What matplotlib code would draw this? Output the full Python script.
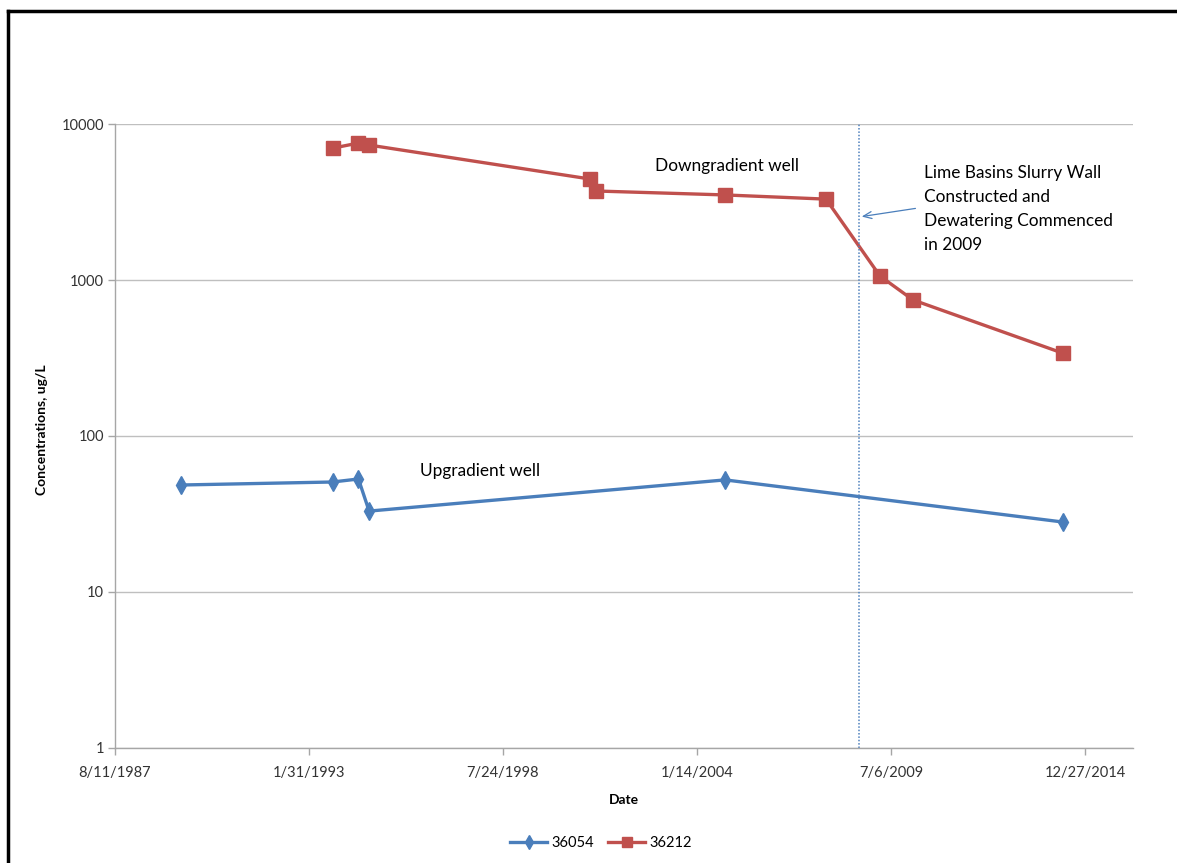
import numpy as np
import pandas as pd
import matplotlib
matplotlib.use("Agg")
import matplotlib.pyplot as plt
from matplotlib.lines import Line2D
from matplotlib.ticker import FixedLocator, NullLocator

plt.rcParams['font.family'] = ['Lato', 'DejaVu Sans']

# Well 36054 (upgradient)
dates_36054 = pd.to_datetime(['1989-06-21', '1993-10-01', '1994-06-25', '1994-10-13',
                              '2004-10-30', '2014-05-10'])
conc_36054 = [48.5, 50.7, 53, 33, 52.3, 28.1]

# Well 36212 (downgradient)
dates_36212 = pd.to_datetime(['1993-10-01', '1994-06-25', '1994-10-13', '2001-01-07',
                              '2001-03-10', '2004-10-30', '2007-09-05', '2009-03-15',
                              '2010-02-18', '2014-05-10'])
conc_36212 = [7000, 7550, 7330, 4440, 3720, 3510, 3300, 1060, 745, 340]

# slurry wall / dewatering marker
wall_date = pd.Timestamp('2008-08-10')

x_tick_labels = ['8/11/1987', '1/31/1993', '7/24/1998', '1/14/2004', '7/6/2009', '12/27/2014']
y_ticks = [1, 10, 100, 1000, 10000]

blue = '#4a7ebb'
red = '#c0504d'
grey = '#a6a6a6'

fig = plt.figure(figsize=(11.77, 8.63), dpi=100)
ax = fig.add_axes([0.0977, 0.1333, 0.8649, 0.7230])

ax.plot(dates_36054, conc_36054, color=blue, lw=2.4, marker='d', ms=9,
        mfc=blue, mec=blue, label='36054')
ax.plot(dates_36212, conc_36212, color=red, lw=2.4, marker='s', ms=9.5,
        mfc=red, mec=red, label='36212')

ax.axvline(wall_date, color='#4f81bd', lw=1.1, ls=(0, (1, 1.2)))

ax.set_yscale('log')
ax.set_ylim(1, 10000)
ax.yaxis.set_major_locator(FixedLocator(y_ticks))
ax.yaxis.set_minor_locator(NullLocator())
ax.set_yticklabels([str(v) for v in y_ticks])

x_ticks = pd.to_datetime(x_tick_labels, format='%m/%d/%Y')
ax.set_xlim(x_ticks[0], pd.Timestamp('2016-05-05'))
ax.set_xticks(x_ticks)
ax.set_xticklabels(x_tick_labels)
ax.xaxis.set_minor_locator(NullLocator())

ax.grid(axis='y', color='#bfbfbf', lw=1)
ax.set_axisbelow(True)
for s in ['top', 'right']:
    ax.spines[s].set_visible(False)
for s in ['left', 'bottom']:
    ax.spines[s].set_color(grey)
    ax.spines[s].set_linewidth(1)
ax.tick_params(axis='both', colors=grey, length=5, width=1, labelcolor='#333333',
               labelsize=10.5)
ax.tick_params(axis='x', pad=8)
ax.tick_params(axis='y', pad=3)

ax.set_xlabel('Date', fontsize=10, fontweight='bold', labelpad=10)
fig.text(42 / 1177, 1 - 430 / 863, 'Concentrations, ug/L', rotation=90,
         ha='center', va='center', fontsize=10, fontweight='bold')

ax.text(0.530, 0.933, 'Downgradient well', transform=ax.transAxes,
        fontsize=12.4, va='center', ha='left')
ax.text(0.2996, 0.444, 'Upgradient well', transform=ax.transAxes,
        fontsize=12.4, va='center', ha='left')
ax.text(0.7947, 0.864, 'Lime Basins Slurry Wall\nConstructed and\nDewatering Commenced\nin 2009',
        transform=ax.transAxes, fontsize=12.4, va='center', ha='left', linespacing=1.6)
ax.annotate('', xy=(wall_date, 2535), xycoords='data',
            xytext=(0.789, 0.8654), textcoords='axes fraction',
            arrowprops=dict(arrowstyle='->,head_length=0.6,head_width=0.25',
                            color=blue, lw=0.9))

fig.legend(loc='center', bbox_to_anchor=(601 / 1177, 1 - 843 / 863), ncol=2,
           frameon=False, fontsize=10.5, handlelength=2.5, columnspacing=1.0,
           handletextpad=0.3, markerscale=0.8)

# outer frame: left and top edges only
x0, y0 = 7.5 / 1177, 1 - 11.5 / 863
fig.add_artist(Line2D([x0, x0], [0, y0], transform=fig.transFigure, color='black', lw=2.5))
fig.add_artist(Line2D([x0, 1], [y0, y0], transform=fig.transFigure, color='black', lw=2.5))

fig.savefig('out.png', dpi=100)
